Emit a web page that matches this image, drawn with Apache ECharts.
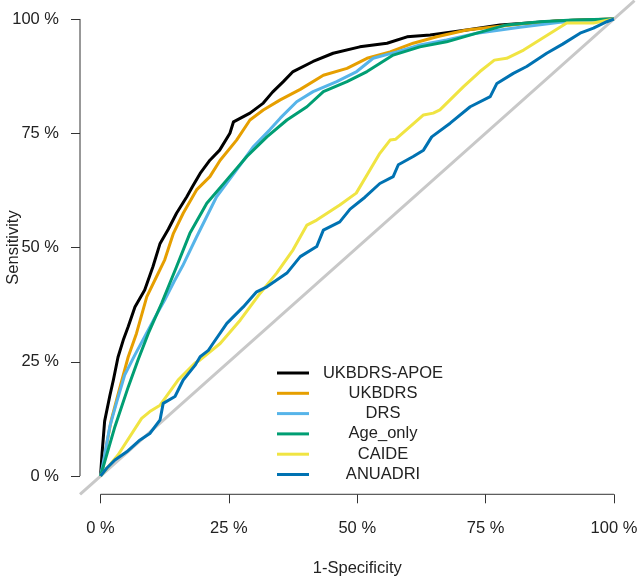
<!DOCTYPE html>
<html><head><meta charset="utf-8">
<script src="https://cdn.jsdelivr.net/npm/echarts@6/dist/echarts.min.js"></script>
<style>html,body{margin:0;padding:0;background:#fff}#c{width:640px;height:578px}</style>
</head><body><div id="c"></div>
<script>
// ---- data (percent: [1-Specificity, Sensitivity]) ----
const seriesNames = ['UKBDRS-APOE', 'UKBDRS', 'DRS', 'Age_only', 'CAIDE', 'ANUADRI'];
const tickValues = [0, 25, 50, 75, 100];

const ukbdrsApoe = [[0,0],[0.3,5],[0.8,12],[1.8,17.5],[2.5,21],[3.4,26],[4.5,30],[5.4,32.7],[6.7,37],[8.6,40.7],[10.2,45.8],[11.6,50.9],[13.2,54],[14.8,57.5],[16.8,61.1],[18,63.5],[19.4,66.2],[21.3,69.1],[23.2,71.3],[25.2,75],[25.9,77.5],[29.1,79.4],[31.7,81.6],[33.5,84],[35.6,86.3],[37.5,88.5],[41.4,90.7],[45.3,92.5],[50.5,93.9],[55.8,94.7],[59.7,96.1],[64.2,96.5],[71.3,97.6],[77.8,98.7],[89.5,99.6],[100,100]];
const ukbdrs = [[0,0],[0.5,2],[1.2,7],[2.1,12.3],[3.8,19.5],[5.4,26.1],[7,31.2],[9,39.2],[10.9,43.6],[12.5,47.3],[14.2,53.1],[16.1,57.5],[18.7,62.6],[21.3,65.5],[23.3,69.1],[26.5,73.5],[29.1,77.9],[31.7,80.1],[35,82.3],[38.9,84.6],[43.4,87.7],[48,89.2],[51.9,91.4],[56.4,92.8],[60.9,94.7],[65.5,96.1],[71.3,97.6],[81.7,98.9],[89.5,99.6],[100,100]];
const drs = [[0,0],[0.5,2.8],[1.8,10.8],[3.1,16],[4.7,22.1],[6.7,26.5],[8.6,30.5],[10.5,34.5],[12.5,38.5],[14.3,42.5],[16,46],[18.7,52.3],[22.6,61.1],[26.5,67],[29.8,72.1],[33,75.8],[35,78.3],[38.2,81.9],[41.4,84.1],[46,86.3],[49.9,88.5],[53.1,91.4],[57.7,92.8],[62.2,94.3],[67.4,95.4],[73.3,96.9],[81.7,98.2],[89.5,99.3],[100,100]];
const ageOnly = [[0,0],[2.8,10.8],[5.4,19.5],[7.3,25.4],[9.3,31.2],[11.9,37.8],[14.8,45.8],[17.4,53.1],[20.7,59.7],[24.6,64.8],[28.5,69.9],[32.4,74.2],[36.3,77.9],[40.2,80.8],[43.4,84.1],[48,86.3],[51.9,88.5],[57,92.1],[62.2,93.9],[67.4,95],[73.3,96.9],[79.1,98.7],[85.6,99.4],[92,99.8],[100,100]];
const caide = [[0,0],[3.4,4.6],[8,12.6],[9.6,14.1],[11.6,15.5],[15.1,21],[18.4,24.7],[19.4,25.4],[23.3,29],[27.2,34.1],[31.1,40],[34.3,44.4],[37.5,49.5],[40.2,54.9],[42.1,56],[46.6,59.3],[49.8,61.9],[52.5,67],[54.4,70.6],[56.4,73.5],[57.5,73.7],[62.9,79],[64.8,79.4],[66.1,80.1],[70.7,85.2],[73.9,88.5],[76.7,91],[79.1,91.4],[82.4,93.2],[90.8,99.1],[96,99.1],[100,100]];
const anuadri = [[0,0],[1.2,1.7],[2.8,3.5],[5.1,5.3],[7.7,7.9],[9.6,9.3],[11.6,12.3],[12.2,15.9],[14.5,17.4],[16.1,21],[18.4,24.2],[19.4,26.1],[21,27.5],[21.9,29],[24.6,33.4],[27.8,37],[30.4,40.3],[32.4,41.4],[36.3,44.4],[38.9,48],[42.1,50.2],[43.4,53.8],[46.6,55.6],[48.6,58.4],[51.5,61],[54.4,64],[57,65.5],[58,68.1],[60.9,69.9],[62.9,71.3],[64.5,74.2],[68.1,77.2],[72,80.8],[75.9,83],[77.2,85.9],[80.4,88.1],[83,89.6],[86.9,92.5],[90,94.5],[93.4,96.9],[96,98],[98.6,99.4],[100,100]];

const seriesData = [ukbdrsApoe, ukbdrs, drs, ageOnly, caide, anuadri];
const seriesColors = ['#000000', '#E69F00', '#56B4E9', '#009E73', '#F0E442', '#0072B2'];

// ---- chart ----
const axisMin = -4, axisMax = 104;
const FONT = '"Liberation Sans", Arial, sans-serif';
const FS = 16.5;
const chart = echarts.init(document.getElementById('c'), null, {renderer: 'canvas'});

const axisColor = '#333';
const series = [];
// reference diagonal (y = x)
series.push({type: 'line', data: [[axisMin, axisMin], [axisMax, axisMax]], symbol: 'none',
  lineStyle: {color: '#c8c8c8', width: 3}, silent: true, z: 1});
// axis lines spanning first..last tick (R style)
series.push({type: 'line', data: [[tickValues[0], axisMin], [tickValues[tickValues.length-1], axisMin]],
  symbol: 'none', clip: false, lineStyle: {color: axisColor, width: 1}, silent: true, z: 1});
series.push({type: 'line', data: [[axisMin, tickValues[0]], [axisMin, tickValues[tickValues.length-1]]],
  symbol: 'none', clip: false, lineStyle: {color: axisColor, width: 1}, silent: true, z: 1});

seriesNames.forEach((n, i) => {
  series.push({name: n, type: 'line', data: seriesData[i], symbol: 'none', showSymbol: false,
    lineStyle: {color: seriesColors[i], width: 3, join: 'round'}, itemStyle: {color: seriesColors[i]}, z: 3});
});

const axisCommon = {
  type: 'value', min: axisMin, max: axisMax,
  axisLine: {show: false, onZero: false}, splitLine: {show: false},
  axisTick: {show: true, customValues: tickValues, length: 9, inside: false, lineStyle: {color: axisColor, width: 1}},
  axisLabel: {customValues: tickValues, formatter: v => v + ' %', fontSize: FS, color: '#222', fontFamily: FONT},
  nameLocation: 'middle', nameMoveOverlap: false,
  nameTextStyle: {fontSize: FS, color: '#222', fontFamily: FONT}
};

chart.setOption({
  animation: false,
  backgroundColor: '#fff',
  grid: {left: 80, right: 5.5, top: 0.7, bottom: 83.7, containLabel: false, outerBoundsMode: 'none'},
  xAxis: Object.assign({}, axisCommon, {
    axisLabel: Object.assign({}, axisCommon.axisLabel, {margin: 26}),
    name: '1-Specificity', nameGap: 66
  }),
  yAxis: Object.assign({}, axisCommon, {
    axisLabel: Object.assign({}, axisCommon.axisLabel, {margin: 21}),
    name: 'Sensitivity', nameGap: 58, nameRotate: 90
  }),
  legend: {
    orient: 'vertical', left: 272, top: 359.5, itemWidth: 32, itemHeight: 3, itemGap: 3.3,
    icon: 'rect', data: seriesNames, selectedMode: false,
    formatter: n => '{t|' + n + '}',
    textStyle: {rich: {t: {width: 138, align: 'center', fontSize: FS, lineHeight: 20, color: '#222', fontFamily: FONT}}}
  },
  series: series
});
</script>
</body></html>
